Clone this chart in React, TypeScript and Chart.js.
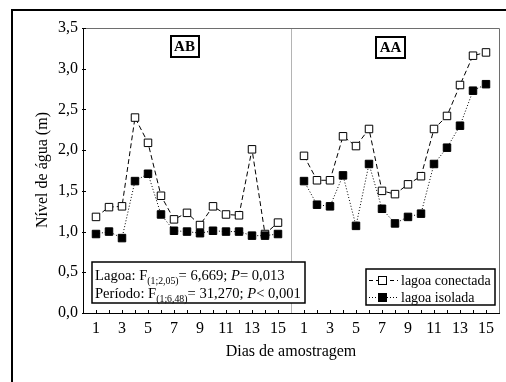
import React, { useEffect, useRef } from 'react';
import { Chart, registerables } from 'chart.js';

Chart.register(...registerables);

// ---- data ----
const dayLabels = [1, 2, 3, 4, 5, 6, 7, 8, 9, 10, 11, 12, 13, 14, 15];
const periodLabels = ['AB', 'AA'];
const seriesNames = ['lagoa conectada', 'lagoa isolada'];
const abConectada = [1.18, 1.30, 1.31, 2.40, 2.09, 1.44, 1.15, 1.23, 1.08, 1.31, 1.21, 1.20, 2.01, 0.97, 1.11];
const abIsolada = [0.97, 1.00, 0.92, 1.62, 1.71, 1.21, 1.01, 1.00, 0.98, 1.01, 1.00, 1.00, 0.95, 0.95, 0.97];
const aaConectada = [1.93, 1.63, 1.63, 2.17, 2.05, 2.26, 1.50, 1.46, 1.58, 1.68, 2.26, 2.42, 2.80, 3.16, 3.20];
const aaIsolada = [1.62, 1.33, 1.31, 1.69, 1.07, 1.83, 1.28, 1.10, 1.18, 1.22, 1.83, 2.03, 2.30, 2.73, 2.81];
const yTicks = [0, 0.5, 1.0, 1.5, 2.0, 2.5, 3.0, 3.5];
const statLines = [
  { label: 'Lagoa: F', sub: '(1;2,05)', fVal: '= 6,669; ', pRel: '= 0,013' },
  { label: 'Período: F', sub: '(1;6,48)', fVal: '= 31,270; ', pRel: '< 0,001' },
];
const xTitle = 'Dias de amostragem';
const yTitle = 'Nível de água (m)';

const SERIF = '"Liberation Serif", "DejaVu Serif", serif';
const OFFSET = dayLabels.length + 1; // second period starts after a gap

const toPoints = (vals: number[], shift: number) =>
  vals.map((v, i) => ({ x: dayLabels[i] + shift, y: v }));

const decorPlugin = {
  id: 'decor',
  beforeDatasetsDraw(chart: any) {
    const { ctx, chartArea: a, scales } = chart;
    const x = scales.x;
    const y = scales.y;
    ctx.save();
    // divider between periods
    const dx = Math.round(x.getPixelForValue(OFFSET)) + 0.5;
    ctx.strokeStyle = '#b4b4b4';
    ctx.lineWidth = 1;
    ctx.beginPath();
    ctx.moveTo(dx, a.top);
    ctx.lineTo(dx, a.bottom);
    ctx.stroke();
    // top & right plot border
    ctx.strokeStyle = '#6e6e6e';
    ctx.beginPath();
    ctx.moveTo(a.left, Math.round(a.top) + 0.5);
    ctx.lineTo(Math.round(a.right) + 0.5, Math.round(a.top) + 0.5);
    ctx.lineTo(Math.round(a.right) + 0.5, a.bottom);
    ctx.stroke();
    // inward ticks
    ctx.strokeStyle = '#000';
    ctx.beginPath();
    for (let v = 1; v < OFFSET * 2; v++) {
      if (v === OFFSET) continue;
      const px = Math.round(x.getPixelForValue(v)) + 0.5;
      ctx.moveTo(px, a.bottom);
      ctx.lineTo(px, a.bottom - 3);
    }
    yTicks.forEach((t) => {
      const py = Math.round(y.getPixelForValue(t)) + 0.5;
      ctx.moveTo(a.left - 1, py);
      ctx.lineTo(a.left + 3, py);
    });
    ctx.stroke();
    ctx.restore();
  },
  afterDraw(chart: any) {
    const { ctx, chartArea: a, scales } = chart;
    const x = scales.x;
    ctx.save();
    // outer frame
    ctx.strokeStyle = '#000';
    ctx.lineWidth = 2;
    ctx.strokeRect(12, 10, 700, 600);

    // period labels
    const boxes = [
      { cx: (x.getPixelForValue(0) + x.getPixelForValue(OFFSET)) / 2 - 2.5, top: 36 },
      { cx: (x.getPixelForValue(OFFSET) + x.getPixelForValue(OFFSET * 2)) / 2 - 4.5, top: 37 },
    ];
    ctx.font = `bold 15px ${SERIF}`;
    ctx.textAlign = 'center';
    ctx.textBaseline = 'middle';
    periodLabels.forEach((lab, i) => {
      const b = boxes[i];
      const w = ctx.measureText(lab).width + 7;
      ctx.lineWidth = 2;
      ctx.strokeRect(Math.round(b.cx - w / 2), b.top, Math.round(w), 21);
      ctx.fillStyle = '#000';
      ctx.fillText(lab, b.cx, b.top + 11.5);
    });

    // stats box
    ctx.lineWidth = 1.5;
    ctx.fillStyle = '#fff';
    ctx.fillRect(92, 262, 213, 41);
    ctx.strokeRect(92, 262, 213, 41);
    ctx.fillStyle = '#000';
    ctx.textAlign = 'left';
    ctx.textBaseline = 'alphabetic';
    statLines.forEach((ln, i) => {
      const base = 280 + i * 18;
      let cx = 95;
      const seg = (t: string, font: string, dy = 0) => {
        ctx.font = font;
        ctx.fillText(t, cx, base + dy);
        cx += ctx.measureText(t).width;
      };
      seg(ln.label, `14.6px ${SERIF}`);
      seg(ln.sub, `9.8px ${SERIF}`, 4);
      seg(ln.fVal, `14.6px ${SERIF}`);
      seg('P', `italic 14.6px ${SERIF}`);
      seg(ln.pRel, `14.6px ${SERIF}`);
    });

    // legend box
    ctx.lineWidth = 1.5;
    ctx.fillStyle = '#fff';
    ctx.fillRect(366, 269, 129, 36);
    ctx.strokeRect(366, 269, 129, 36);
    const rows = [
      { y: 280, dash: [4, 3], fill: '#fff' },
      { y: 297, dash: [1, 2], fill: '#000' },
    ];
    rows.forEach((r, i) => {
      ctx.lineWidth = 1;
      ctx.strokeStyle = '#000';
      ctx.setLineDash(r.dash);
      ctx.beginPath();
      ctx.moveTo(369, r.y + 0.5);
      ctx.lineTo(398, r.y + 0.5);
      ctx.stroke();
      ctx.setLineDash([]);
      ctx.fillStyle = r.fill;
      ctx.fillRect(378.5, r.y - 3.5, 8, 8);
      ctx.strokeRect(378.5, r.y - 3.5, 8, 8);
      ctx.fillStyle = '#000';
      ctx.font = `14px ${SERIF}`;
      ctx.textBaseline = 'middle';
      ctx.fillText(seriesNames[i], 401, r.y + 1);
    });

    // axis titles
    ctx.font = `16px ${SERIF}`;
    ctx.textAlign = 'center';
    ctx.textBaseline = 'middle';
    ctx.fillText(xTitle, (a.left + a.right) / 2, 352);
    ctx.translate(43, 170);
    ctx.rotate(-Math.PI / 2);
    ctx.fillText(yTitle, 0, 0);
    ctx.restore();
  },
};

export default function App() {
  const ref = useRef<HTMLCanvasElement>(null);
  useEffect(() => {
    if (!ref.current) return;
    const common = { showLine: true, borderWidth: 1, borderColor: '#000', pointStyle: 'rect', pointRadius: 5.3, pointBorderWidth: 1, pointBorderColor: '#000' };
    const chart = new Chart(ref.current, {
      type: 'scatter',
      data: {
        datasets: [
          { ...common, label: seriesNames[1], data: toPoints(abIsolada, 0), borderDash: [1, 2], pointBackgroundColor: '#000', order: 1 },
          { ...common, label: seriesNames[1], data: toPoints(aaIsolada, OFFSET), borderDash: [1, 2], pointBackgroundColor: '#000', order: 1 },
          { ...common, label: seriesNames[0], data: toPoints(abConectada, 0), borderDash: [5, 3], pointBackgroundColor: '#fff', order: 2 },
          { ...common, label: seriesNames[0], data: toPoints(aaConectada, OFFSET), borderDash: [5, 3], pointBackgroundColor: '#fff', order: 2 },
        ] as any,
      },
      options: {
        responsive: false,
        animation: false,
        layout: { padding: { left: 0, top: 28, right: 7, bottom: 0 } },
        plugins: { legend: { display: false }, tooltip: { enabled: false } },
        scales: {
          x: {
            type: 'linear',
            min: 0,
            max: OFFSET * 2,
            grid: { display: false, drawTicks: false },
            border: { display: true, color: '#000', width: 1 },
            ticks: {
              stepSize: 1,
              autoSkip: false,
              maxRotation: 0,
              padding: 6,
              color: '#000',
              font: { family: SERIF, size: 16 },
              callback: (v: any) => {
                const n = Number(v);
                const d = n > OFFSET ? n - OFFSET : n;
                if (n === 0 || n === OFFSET || n === OFFSET * 2) return null;
                return d % 2 === 1 ? String(d) : '';
              },
            },
            afterFit: (s: any) => { s.height = 69; },
          },
          y: {
            min: 0,
            max: 3.5,
            grid: { display: false, drawTicks: false },
            border: { display: true, color: '#000', width: 1 },
            ticks: {
              stepSize: 0.5,
              padding: 5,
              color: '#000',
              font: { family: SERIF, size: 16 },
              callback: (v: any) => Number(v).toFixed(1).replace('.', ','),
            },
            afterFit: (s: any) => { s.width = 83; },
          },
        },
      } as any,
      plugins: [decorPlugin],
    });
    return () => chart.destroy();
  }, []);
  return (
    <div style={{ position: 'fixed', left: 0, top: 0, width: 506, height: 382, background: '#fff' }}>
      <canvas ref={ref} width={506} height={382} style={{ width: 506, height: 382, display: 'block' }} />
    </div>
  );
}
